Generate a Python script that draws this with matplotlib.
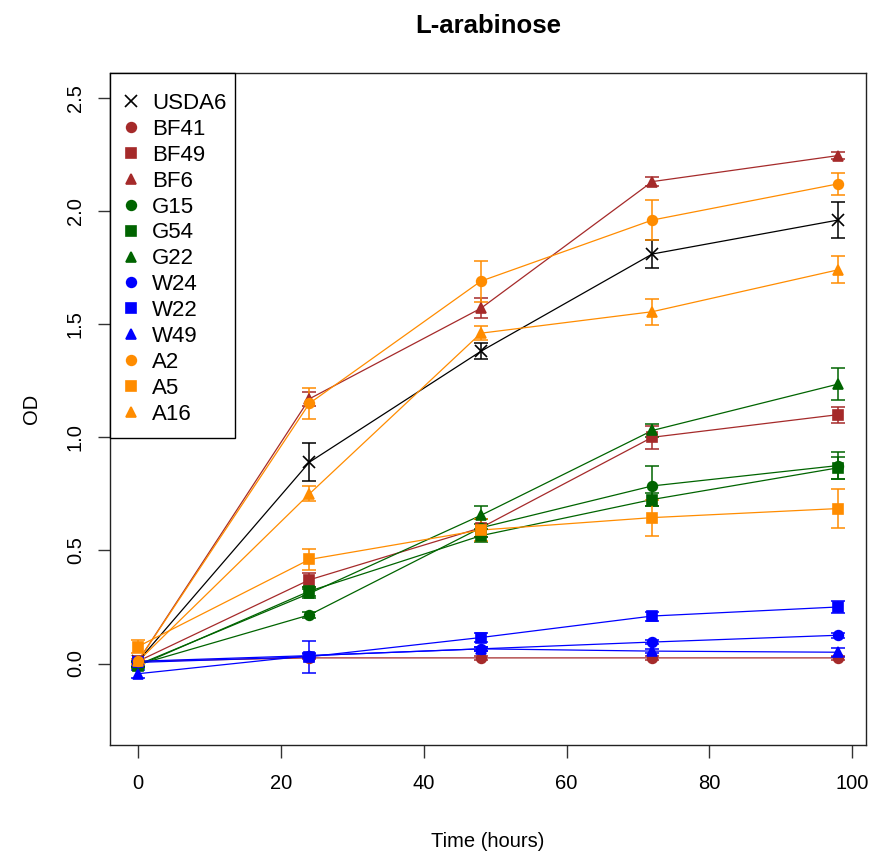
import matplotlib
matplotlib.use("Agg")
import matplotlib.pyplot as plt
from matplotlib.patches import Rectangle

plt.rcParams['font.family'] = ['Liberation Sans', 'DejaVu Sans']

# sampling times (hours)
time = [0, 24, 48, 72, 98]

# mean OD and error per strain
strains = ['USDA6', 'BF41', 'BF49', 'BF6', 'G15', 'G54', 'G22',
           'W24', 'W22', 'W49', 'A2', 'A5', 'A16']

usda6 = [0.01, 0.89, 1.38, 1.81, 1.96]
usda6_err = [0.01, 0.085, 0.035, 0.06, 0.078]
bf41 = [0.01, 0.025, 0.025, 0.025, 0.025]
bf41_err = [0.005, 0.005, 0.008, 0.008, 0.008]
bf49 = [0.01, 0.37, 0.60, 1.00, 1.10]
bf49_err = [0.01, 0.03, 0.04, 0.05, 0.035]
bf6 = [0.01, 1.17, 1.57, 2.13, 2.245]
bf6_err = [0.01, 0.03, 0.045, 0.02, 0.015]
g15 = [-0.005, 0.215, 0.60, 0.785, 0.875]
g15_err = [0.01, 0.015, 0.04, 0.09, 0.06]
g54 = [-0.01, 0.32, 0.565, 0.725, 0.865]
g54_err = [0.01, 0.02, 0.03, 0.03, 0.05]
g22 = [-0.005, 0.31, 0.655, 1.03, 1.235]
g22_err = [0.01, 0.02, 0.04, 0.03, 0.072]
w24 = [0.01, 0.035, 0.065, 0.095, 0.125]
w24_err = [0.008, 0.008, 0.01, 0.01, 0.01]
w22 = [0.005, 0.03, 0.115, 0.21, 0.25]
w22_err = [0.01, 0.07, 0.02, 0.02, 0.025]
w49 = [-0.045, 0.035, 0.065, 0.055, 0.05]
w49_err = [0.017, 0.01, 0.01, 0.01, 0.02]
a2 = [0.01, 1.15, 1.69, 1.96, 2.12]
a2_err = [0.01, 0.07, 0.09, 0.087, 0.05]
a5 = [0.075, 0.46, 0.59, 0.645, 0.685]
a5_err = [0.03, 0.046, 0.05, 0.08, 0.087]
a16 = [0.01, 0.75, 1.46, 1.555, 1.74]
a16_err = [0.01, 0.033, 0.03, 0.058, 0.06]

means = [usda6, bf41, bf49, bf6, g15, g54, g22, w24, w22, w49, a2, a5, a16]
errs = [usda6_err, bf41_err, bf49_err, bf6_err, g15_err, g54_err, g22_err,
        w24_err, w22_err, w49_err, a2_err, a5_err, a16_err]

colors = ['black'] + ['#A52A2A'] * 3 + ['#006400'] * 3 + ['#0000FF'] * 3 + ['#FF8C00'] * 3
markers = ['x'] + ['o', 's', '^'] * 4
msizes = {'x': 8, 'o': 7, 's': 6.5, '^': 7.5}

fig = plt.figure(figsize=(8.71, 8.52), dpi=100)
ax = fig.add_axes([110 / 871, 1 - 745 / 852, 756 / 871, 672 / 852])

for name, y, e, c, m in zip(strains, means, errs, colors, markers):
    ax.plot(time, y, color=c, lw=0.9, zorder=2)
    ax.errorbar(time, y, yerr=e, fmt='none', ecolor=c, elinewidth=1.1,
                capsize=5, capthick=1.1, zorder=3)
    ax.plot(time, y, ls='none', marker=m, color=c, ms=msizes[m], mew=1.2,
            label=name, zorder=4)

ax.set_xlim(-3.92, 101.92)
ax.set_ylim(-0.36, 2.61)
ax.set_xticks([0, 20, 40, 60, 80, 100])
ax.set_yticks([0.0, 0.5, 1.0, 1.5, 2.0, 2.5])
ax.set_yticklabels(['0.0', '0.5', '1.0', '1.5', '2.0', '2.5'],
                   rotation=90, va='center')
ax.tick_params(axis='both', direction='out', length=9, width=1,
               labelsize=14.5, color='#333333')
ax.tick_params(axis='x', pad=12)
ax.tick_params(axis='y', pad=9)
for sp in ax.spines.values():
    sp.set_linewidth(1)
    sp.set_color('#222222')

ax.set_xlabel('Time (hours)', fontsize=14.5, labelpad=28)
ax.set_ylabel('OD', fontsize=14.5, labelpad=18)
ax.set_title('L-arabinose', fontsize=18.5, fontweight='bold', pad=29)

# legend box drawn separately, R style
ax.add_patch(Rectangle((0, 307 / 672), 125 / 756, 365 / 672, transform=ax.transAxes,
                       facecolor='white', edgecolor='black', lw=1, zorder=4.9,
                       clip_on=False))
leg = ax.legend(loc='upper left', bbox_to_anchor=(12 / 756, 1 - 20 / 672),
                borderaxespad=0, borderpad=0, frameon=False,
                fontsize=16, labelspacing=0.22, handlelength=0.8,
                handletextpad=0.55)

fig.savefig('out.png', dpi=100)
